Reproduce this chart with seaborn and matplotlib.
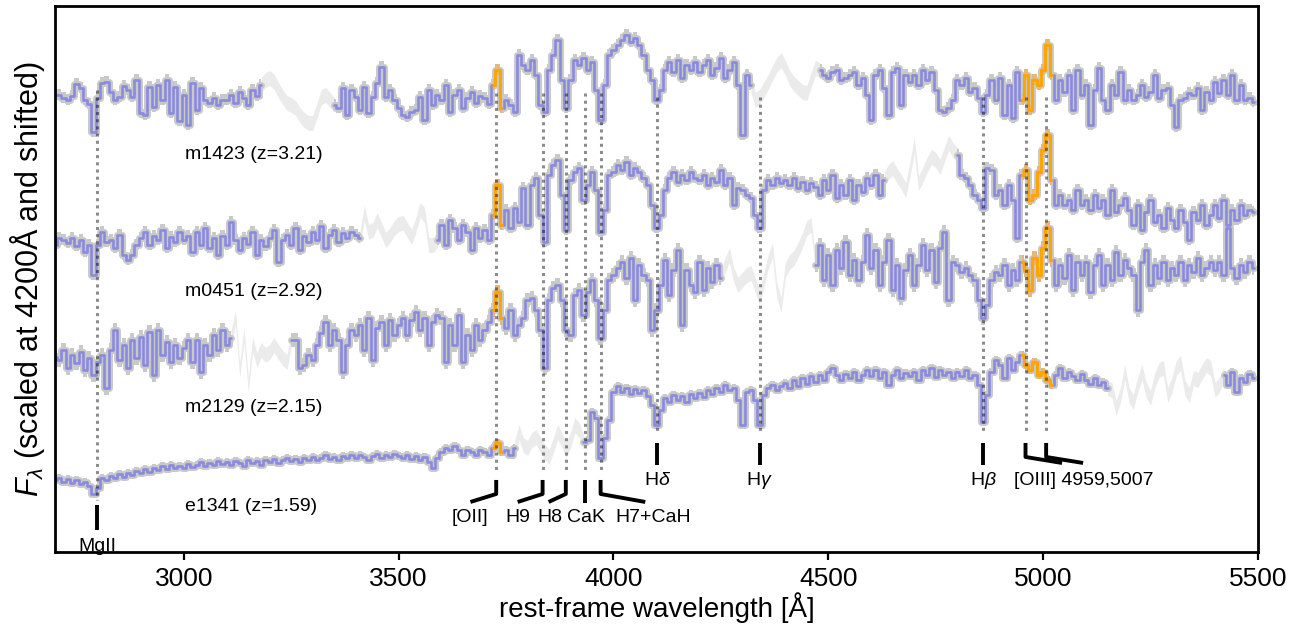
import numpy as np
import matplotlib
matplotlib.use('Agg')
import matplotlib.pyplot as plt
import seaborn as sns

# ---------------- data ----------------
wave_start, wave_step, n_pix = 2700, 10, 280   # rest-frame grid [Angstrom]

names = ['m1423', 'm0451', 'm2129', 'e1341']
redshifts = [3.21, 2.92, 2.15, 1.59]
offsets = [3.80, 2.76, 1.73, 0.56]          # vertical shifts
errors = [0.055, 0.055, 0.07, 0.04]         # 1-sigma flux error (scaled units)

# flux scaled at 4200 A, in percent, one value per 10 A from 2700 A
flux_m1423 = [
    78, 78, 75, 73, 77, 89, 85, 73, 69, 41,
    75, 90, 91, 81, 73, 76, 87, 83, 76, 93,
    60, 58, 86, 66, 88, 73, 93, 60, 86, 52,
    78, 48, 90, 63, 85, 73, 70, 75, 68, 73,
    73, 78, 70, 81, 75, 68, 83, 77, 88, 93,
    95, 91, 83, 76, 70, 68, 65, 58, 53, 50,
    50, 63, 76, 78, 73, 68, 65, 85, 58, 83,
    76, 63, 86, 60, 76, 90, 106, 76, 83, 73,
    65, 58, 56, 61, 63, 76, 53, 83, 68, 78,
    73, 88, 61, 78, 83, 65, 75, 81, 70, 77,
    75, 69, 88, 103, 65, 73, 68, 61, 118, 108,
    103, 113, 98, 68, 61, 103, 118, 133, 93, 65,
    93, 113, 108, 115, 103, 111, 83, 53, 88, 118,
    123, 128, 133, 138, 131, 135, 128, 118, 103, 93,
    73, 83, 103, 111, 101, 113, 95, 108, 103, 111,
    101, 108, 113, 98, 105, 115, 95, 103, 111, 88,
    38, 98, 88, 73, 76, 83, 91, 100, 108, 113,
    105, 95, 89, 85, 81, 80, 93, 105, 103, 98,
    95, 101, 103, 93, 95, 98, 101, 88, 95, 78,
    53, 98, 103, 85, 58, 101, 105, 68, 98, 91,
    98, 88, 103, 93, 101, 83, 63, 61, 65, 73,
    93, 88, 95, 81, 85, 75, 61, 78, 93, 73,
    95, 58, 88, 55, 101, 73, 98, 63, 93, 88,
    103, 128, 98, 73, 93, 81, 98, 63, 103, 78,
    88, 48, 83, 105, 73, 63, 88, 78, 101, 73,
    83, 73, 78, 88, 76, 81, 98, 75, 83, 85,
    68, 46, 73, 75, 80, 78, 85, 63, 81, 73,
    91, 80, 93, 78, 98, 73, 88, 73, 75, 71,
]
flux_m0451 = [
    32, 39, 37, 34, 39, 31, 37, 25, 32, 2,
    32, 45, 35, 37, 29, 42, 22, 17, 22, 32,
    39, 45, 32, 41, 37, 47, 29, 40, 35, 45,
    37, 41, 25, 45, 32, 49, 29, 39, 22, 41,
    32, 55, 37, 27, 39, 33, 45, 22, 37, 31,
    39, 47, 15, 37, 42, 32, 49, 27, 41, 35,
    45, 37, 51, 29, 42, 47, 35, 44, 39, 45,
    42, 39, 64, 45, 47, 57, 47, 37, 42, 49,
    53, 54, 47, 40, 52, 67, 62, 32, 32, 37,
    52, 32, 57, 49, 37, 52, 45, 27, 49, 39,
    47, 37, 62, 92, 52, 67, 49, 69, 55, 89,
    52, 92, 99, 62, 35, 102, 112, 117, 82, 47,
    97, 105, 109, 77, 92, 105, 87, 45, 67, 102,
    105, 112, 107, 115, 102, 109, 105, 99, 92, 72,
    49, 62, 87, 99, 105, 95, 102, 97, 105, 99,
    97, 102, 92, 99, 95, 107, 92, 99, 72, 89,
    87, 82, 79, 62, 49, 87, 97, 92, 99, 94,
    97, 92, 99, 89, 95, 87, 94, 90, 82, 97,
    87, 102, 79, 92, 82, 97, 77, 92, 85, 99,
    92, 102, 82, 97, 105, 109, 101, 95, 87, 107,
    132, 94, 102, 112, 120, 117, 110, 122, 134, 127,
    122, 102, 99, 92, 82, 77, 69, 109, 107, 82,
    87, 72, 92, 77, 39, 102, 107, 77, 82, 105,
    127, 142, 97, 72, 82, 72, 77, 67, 87, 72,
    77, 67, 82, 69, 77, 62, 87, 65, 72, 79,
    67, 52, 72, 47, 65, 77, 55, 62, 49, 69,
    57, 49, 67, 55, 37, 65, 57, 72, 52, 62,
    72, 59, 77, 52, 67, 57, 72, 62, 67, 65,
]
flux_m2129 = [
    23, 20, 30, 12, 25, 17, 28, 10, 22, 5,
    18, 25, -8, 30, 50, 20, 35, 12, 40, 22,
    43, 15, 48, 5, 50, 25, 38, 18, 35, 22,
    32, 40, 18, 40, 8, 35, 25, 45, 30, 50,
    35, 42, 62, 10, 45, -5, 35, 20, 30, 25,
    28, 35, 28, 22, 18, 40, 40, 12, 15, 25,
    20, 35, 47, 58, 35, 50, 40, 8, 35, 50,
    45, 55, 30, 62, 20, 52, 58, 35, 60, 45,
    55, 62, 45, 60, 68, 50, 62, 35, 58, 65,
    62, 18, 55, 35, 65, 18, 45, 30, 55, 40,
    50, 58, 70, 88, 62, 52, 70, 45, 55, 62,
    80, 82, 70, 50, 12, 80, 92, 95, 80, 50,
    45, 85, 90, 65, 88, 100, 80, 42, 70, 100,
    105, 112, 118, 102, 122, 80, 115, 105, 100, 50,
    70, 95, 120, 85, 110, 130, 55, 110, 95, 88,
    118, 90, 112, 98, 115, 102, 115, 125, 105, 95,
    100, 105, 107, 95, 83, 100, 118, 130, 90, 75,
    110, 118, 122, 130, 140, 152, 155, 115, 135, 100,
    125, 95, 130, 112, 138, 105, 120, 100, 118, 145,
    112, 130, 95, 118, 140, 90, 115, 82, 110, 125,
    95, 115, 135, 110, 130, 98, 132, 148, 80, 118,
    115, 108, 112, 105, 100, 80, 62, 75, 100, 108,
    105, 115, 95, 110, 100, 118, 110, 90, 122, 105,
    132, 152, 120, 95, 115, 102, 125, 90, 118, 105,
    118, 88, 115, 125, 95, 115, 100, 128, 105, 120,
    112, 105, 70, 118, 130, 95, 115, 102, 118, 100,
    112, 105, 118, 100, 115, 108, 122, 105, 112, 118,
    110, 118, 105, 152, 112, 102, 115, 108, 118, 112,
]
flux_e1341 = [
    17, 19, 15, 18, 14, 17, 13, 15, 11, 3,
    9, 19, 17, 21, 19, 23, 20, 24, 22, 26,
    24, 28, 25, 29, 27, 31, 28, 32, 29, 31,
    29, 33, 30, 32, 35, 31, 34, 32, 36, 33,
    35, 32, 36, 34, 31, 37, 34, 36, 32, 37,
    35, 38, 34, 37, 39, 36, 38, 35, 39, 37,
    40, 37, 39, 42, 38, 40, 37, 41, 39, 42,
    39, 42, 40, 37, 41, 43, 39, 42, 40, 43,
    41, 39, 42, 38, 41, 37, 40, 35, 29, 39,
    45, 49, 47, 51, 47, 42, 47, 45, 42, 47,
    45, 42, 49, 54, 45, 47, 42, 49, 65, 52,
    49, 57, 60, 52, 45, 40, 52, 65, 57, 47,
    57, 72, 67, 55, 57, 85, 79, 39, 59, 77,
    105, 111, 105, 109, 103, 108, 104, 107, 101, 92,
    72, 87, 99, 95, 102, 97, 101, 95, 103, 99,
    104, 100, 107, 103, 109, 105, 112, 107, 109, 97,
    72, 105, 107, 97, 72, 102, 109, 112, 107, 111,
    114, 109, 117, 111, 119, 113, 121, 115, 122, 117,
    125, 129, 122, 117, 123, 119, 125, 117, 122, 127,
    121, 127, 119, 125, 112, 122, 127, 119, 124, 121,
    125, 117, 127, 122, 129, 120, 127, 122, 125, 119,
    125, 121, 127, 119, 122, 112, 75, 102, 125, 137,
    132, 119, 139, 127, 135, 142, 132, 127, 135, 122,
    125, 117, 112, 122, 129, 119, 125, 121, 117, 123,
    117, 113, 119, 112, 115, 109, 107, 89, 102, 125,
    102, 95, 112, 125, 107, 99, 117, 127, 129, 102,
    112, 129, 134, 109, 102, 119, 117, 125, 132, 129,
    107, 112, 122, 112, 125, 105, 119, 115, 123, 119,
]
fluxes = [flux_m1423, flux_m0451, flux_m2129, flux_e1341]

# wavelength ranges affected by sky / telluric residuals (drawn light grey)
masked_ranges = [
    [(3185, 3345), (4325, 4477)],
    [(3415, 3588), (4640, 4798)],
    [(3112, 3248), (4255, 4468)],
    [(3775, 3928), (5160, 5418)],
]
emission_ranges = [(3716, 3744), (4946, 5024)]   # [OII] and [OIII] windows

line_labels = ['MgII', '[OII]', 'H9', 'H8', 'CaK', 'H7+CaH',
               r'H$\delta$', r'H$\gamma$', r'H$\beta$', '[OIII]4959', '[OIII]5007']
line_waves = [2798, 3727, 3835, 3889, 3934, 3970, 4102, 4340, 4861, 4959, 5007]

# ---------------- style ----------------
sns.set_theme(style='white')
plt.rcParams['font.family'] = ['Liberation Sans', 'DejaVu Sans']
plt.rcParams['mathtext.fontset'] = 'custom'
plt.rcParams['mathtext.rm'] = 'Liberation Sans'
plt.rcParams['mathtext.it'] = 'Liberation Sans:italic'
plt.rcParams['mathtext.bf'] = 'Liberation Sans:bold'
plt.rcParams['text.color'] = 'black'
plt.rcParams['axes.labelcolor'] = 'black'
plt.rcParams['xtick.color'] = 'black'

BLUE = '#8a8ade'
BAND = '#c9c9c9'
MASK = '#ebebeb'
ORANGE = '#ffa500'
ORANGE_BAND = '#e6b878'

fig = plt.figure(figsize=(13.12, 6.33), dpi=100)
ax = fig.add_axes([0.0419, 0.128, 0.9169, 0.8626])

wave = wave_start + wave_step * np.arange(n_pix)


def segments(mask):
    idx = np.flatnonzero(mask)
    if idx.size == 0:
        return []
    cuts = np.flatnonzero(np.diff(idx) > 1) + 1
    return np.split(idx, cuts)


for flux, off, err, mranges in zip(fluxes, offsets, errors, masked_ranges):
    y = off + np.asarray(flux, dtype=float) / 100.0
    masked = np.zeros(n_pix, bool)
    for lo, hi in mranges:
        masked |= (wave >= lo) & (wave <= hi)
    emis = np.zeros(n_pix, bool)
    for lo, hi in emission_ranges:
        emis |= (wave >= lo) & (wave <= hi)

    # masked parts: light grey band, linear
    for seg in segments(masked):
        i0, i1 = max(seg[0] - 1, 0), min(seg[-1] + 2, n_pix)
        s = slice(i0, i1)
        ax.fill_between(wave[s], y[s] - 0.075, y[s] + 0.075,
                        color=MASK, lw=0, zorder=1)
    # good parts: grey error band + blue step line
    for seg in segments(~masked):
        s = slice(seg[0], seg[-1] + 1)
        ax.fill_between(wave[s], y[s] - err, y[s] + err, step='mid',
                        color=BAND, lw=0, zorder=2)
        sns.lineplot(x=wave[s], y=y[s], ax=ax, color=BAND, lw=5.0,
                     drawstyle='steps-mid', estimator=None, sort=False,
                     legend=False, zorder=2.1)
        sns.lineplot(x=wave[s], y=y[s], ax=ax, color=BLUE, lw=1.9,
                     drawstyle='steps-mid', estimator=None, sort=False,
                     legend=False, zorder=3)
    # emission-line windows in orange
    for seg in segments(emis & ~masked):
        s = slice(seg[0], seg[-1] + 1)
        ax.fill_between(wave[s], y[s] - err, y[s] + err, step='mid',
                        color=ORANGE_BAND, lw=0, zorder=3.5)
        sns.lineplot(x=wave[s], y=y[s], ax=ax, color=ORANGE, lw=2.2,
                     drawstyle='steps-mid', estimator=None, sort=False,
                     legend=False, zorder=4)

# spectrum names
name_y = [3.98, 2.61, 1.45, 0.46]
for nm, z, yy in zip(names, redshifts, name_y):
    ax.text(3002, yy, f'{nm} (z={z:.2f})', fontsize=14, ha='left', va='center')

# dotted line markers
dot_kw = dict(color='black', alpha=0.45, lw=2.2, ls=(0, (1.0, 1.35)), zorder=6,
              solid_capstyle='butt', dash_capstyle='butt')
dot_span = {0: (4.63, 0.53)}
for i in range(1, 6):
    dot_span[i] = (4.60, 0.83)
for i in range(6, 11):
    dot_span[i] = (4.56, 1.21)
for i, w in enumerate(line_waves):
    top, bot = dot_span[i]
    ax.plot([w, w], [top, bot], **dot_kw)

tk = dict(color='black', lw=2.8, solid_capstyle='butt', zorder=6)
# MgII
ax.plot([line_waves[0]] * 2, [0.48, 0.23], **tk)
ax.text(line_waves[0], 0.015, line_labels[0], fontsize=14, ha='center', va='baseline')
# [OII], H9, H8, CaK, H7+CaH
group1_end = {1: 3667, 2: 3777, 3: 3849, 5: 4074}
group1_text = {1: 3667, 2: 3777, 3: 3852, 4: 3937, 5: 4093}
for i in range(1, 6):
    w = line_waves[i]
    if i == 4:
        ax.plot([w, w], [0.73, 0.50], **tk)
    else:
        ax.plot([w, w, group1_end[i]], [0.73, 0.59, 0.51], **tk)
    ax.text(group1_text[i], 0.35, line_labels[i], fontsize=14, ha='center', va='center')
# Hdelta, Hgamma, Hbeta
for i in (6, 7, 8):
    w = line_waves[i]
    ax.plot([w, w], [1.10, 0.88], **tk)
    ax.text(w, 0.725, line_labels[i], fontsize=14, ha='center', va='center')
# [OIII]
for i, wend in ((9, 5044), (10, 5093)):
    w = line_waves[i]
    ax.plot([w, w, wend], [1.10, 0.96, 0.90], **tk)
ax.text(4933, 0.725, '[OIII] 4959,5007', fontsize=14, ha='left', va='center')

# axes cosmetics
ax.set_xlim(2700, 5500)
ax.set_ylim(0.01, 5.47)
ax.set_yticks([])
ax.set_xticks([3000, 3500, 4000, 4500, 5000, 5500])
ax.tick_params(axis='x', direction='out', length=6, width=1.6, labelsize=19,
               pad=5, bottom=True, colors='black')
for sp in ax.spines.values():
    sp.set_linewidth(2.0)
    sp.set_color('black')
    sp.set_zorder(10)
ax.set_xlabel('rest-frame wavelength [Å]', fontsize=20, labelpad=1, color='black')
ax.set_ylabel(r'$F_\lambda$ (scaled at 4200Å and shifted)', fontsize=22,
              labelpad=6, color='black')

fig.savefig('out.png', dpi=100)
